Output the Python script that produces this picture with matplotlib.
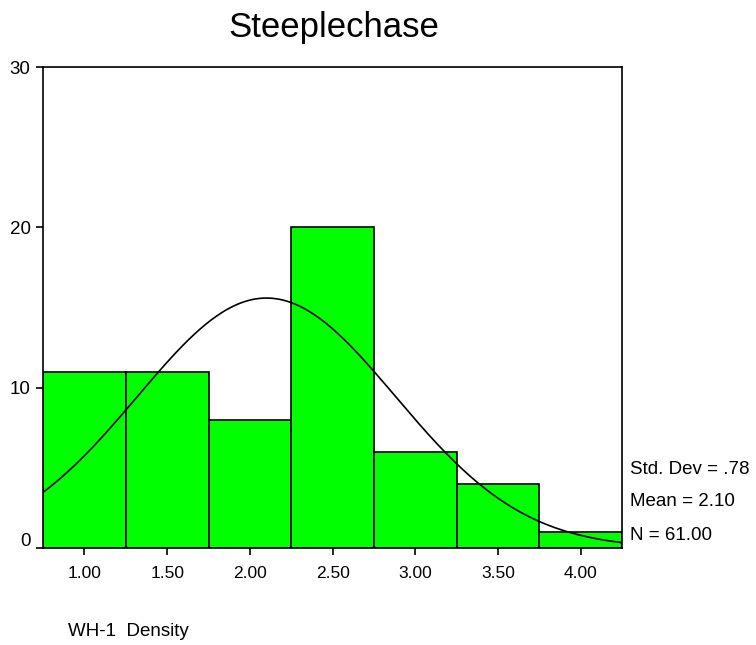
import matplotlib.pyplot as plt
import matplotlib.transforms as mtransforms
import numpy as np

plt.rcParams['font.family'] = ['Liberation Sans', 'DejaVu Sans']

# histogram bins (centers) and counts
bin_centers = [1.00, 1.50, 2.00, 2.50, 3.00, 3.50, 4.00]
counts = [11, 11, 8, 20, 6, 4, 1]
bin_width = 0.5
tick_labels = ["1.00", "1.50", "2.00", "2.50", "3.00", "3.50", "4.00"]

# summary stats shown on the chart
std_dev = 0.78
mean = 2.10
n = 61

fig = plt.figure(figsize=(7.56, 6.45), dpi=100)
ax = fig.add_axes([0.057, 0.150, 0.766, 0.746])

ax.bar(bin_centers, counts, width=bin_width, color="#00ff00",
       edgecolor="black", linewidth=1.2, zorder=2)

# fitted normal curve scaled to counts
xs = np.linspace(0.75, 4.25, 300)
ys = n * bin_width / (std_dev * np.sqrt(2 * np.pi)) * np.exp(-0.5 * ((xs - mean) / std_dev) ** 2)
ax.plot(xs, ys, color="black", linewidth=1.2, zorder=3)

ax.set_xlim(0.75, 4.25)
ax.set_ylim(0, 30)
ax.set_xticks(bin_centers)
ax.set_xticklabels(tick_labels)
ax.set_yticks([0, 10, 20, 30])
ax.tick_params(direction="out", length=5, width=1.2)
ax.tick_params(axis="x", labelsize=12.5, pad=8)
ax.tick_params(axis="y", labelsize=13.5, pad=4)
for s in ax.spines.values():
    s.set_linewidth(1.2)

# SPSS lifts the "0" label above the axis line
zero_lab = ax.yaxis.get_major_ticks()[0].label1
zero_lab.set_transform(zero_lab.get_transform() +
                       mtransforms.ScaledTranslation(0, 0.09, fig.dpi_scale_trans))

fig.text(0.442, 0.943, "Steeplechase", ha="center", va="baseline", fontsize=25)
fig.text(0.09, 0.014, "WH-1  Density", ha="left", va="baseline", fontsize=13.5)

stats = ["Std. Dev = .78", "Mean = 2.10", "N = 61.00"]
baselines = [474, 506, 540]
for t, b in zip(stats, baselines):
    fig.text(0.833, 1 - b / 645, t, ha="left", va="baseline", fontsize=13.5)

fig.savefig("out.png", dpi=100)
